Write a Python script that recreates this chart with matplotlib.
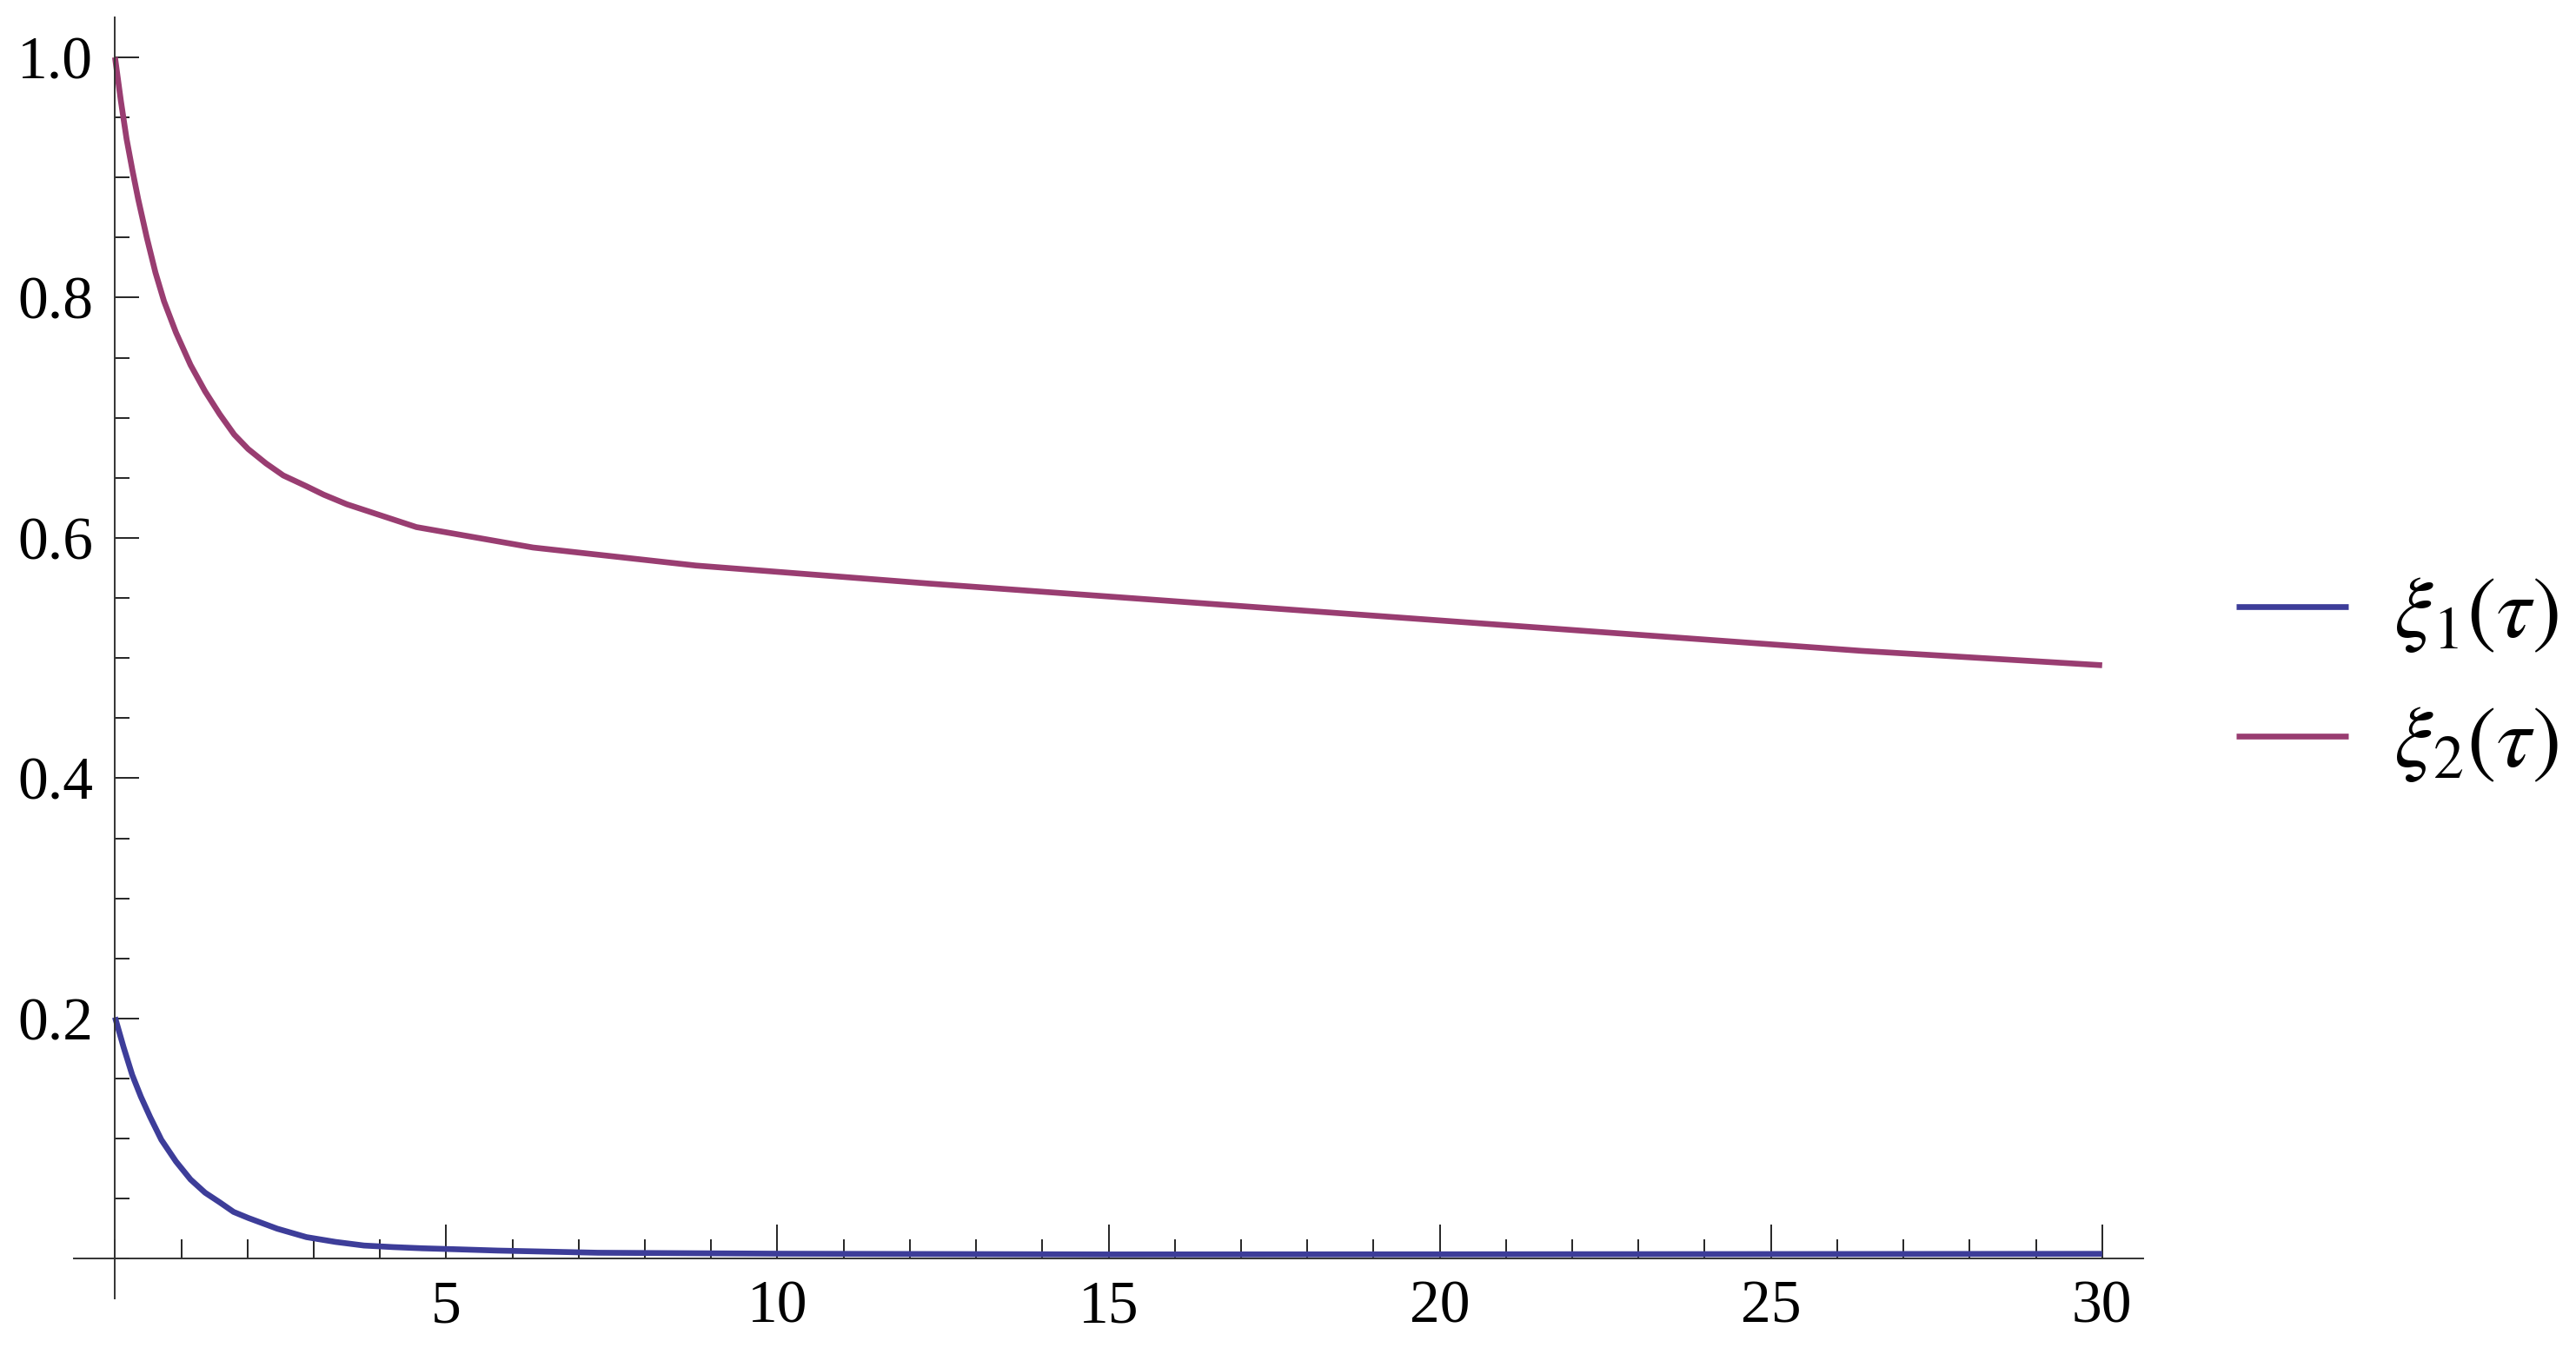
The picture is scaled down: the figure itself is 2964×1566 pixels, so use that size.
import matplotlib
matplotlib.use("Agg")
import matplotlib.pyplot as plt
from matplotlib.ticker import MultipleLocator, FixedLocator

plt.rcParams['font.family'] = ['Liberation Serif', 'DejaVu Serif']
plt.rcParams['mathtext.fontset'] = 'stix'

# values
tau1 = [0, 0.13, 0.26, 0.39, 0.53, 0.70, 0.92, 1.14, 1.36, 1.58, 1.79, 2.01, 2.45,
        2.89, 3.33, 3.76, 4.20, 4.64, 5.08, 5.78, 7.29, 10.06, 15, 20, 25, 30]
xi1 = [0.201, 0.176, 0.153, 0.135, 0.118, 0.099, 0.081, 0.066, 0.055, 0.047, 0.039,
       0.034, 0.025, 0.018, 0.014, 0.011, 0.0097, 0.0087, 0.0080, 0.0068, 0.0050,
       0.0042, 0.0036, 0.0037, 0.0039, 0.0041]

tau2 = [0, 0.088, 0.175, 0.263, 0.35, 0.48, 0.61, 0.74, 0.92, 1.14, 1.36, 1.58,
        1.80, 2.01, 2.28, 2.54, 2.89, 3.15, 3.5, 4.55, 6.31, 8.77, 12.29, 15.81,
        19.32, 22.84, 26.36, 30.0]
xi2 = [1.0, 0.964, 0.932, 0.906, 0.882, 0.850, 0.821, 0.797, 0.771, 0.744, 0.722,
       0.703, 0.686, 0.674, 0.662, 0.652, 0.643, 0.636, 0.628, 0.609, 0.592, 0.577,
       0.562, 0.548, 0.534, 0.520, 0.506, 0.494]

labels = [r'$\xi_1(\tau)$', r'$\xi_2(\tau)$']
colors = ['#3D3D99', '#993D71']

x_major = [5, 10, 15, 20, 25, 30]
y_major = [0.2, 0.4, 0.6, 0.8, 1.0]

fig = plt.figure(figsize=(14.82, 7.83), dpi=200)
ax = fig.add_axes([0.0287, 0.046, 0.8033, 0.941])

ax.plot(tau1, xi1, color=colors[0], lw=2.4, label=labels[0], solid_capstyle='butt')
ax.plot(tau2, xi2, color=colors[1], lw=2.4, label=labels[1], solid_capstyle='butt')

ax.set_xlim(-0.62, 30.62)
ax.set_ylim(-0.033, 1.033)

# axes crossing at the origin, ticks pointing inwards
for s in ['top', 'right']:
    ax.spines[s].set_visible(False)
ax.spines['left'].set_position(('data', 0))
ax.spines['bottom'].set_position(('data', 0))
for s in ['left', 'bottom']:
    ax.spines[s].set_linewidth(0.7)
    ax.spines[s].set_color('#333333')

ax.xaxis.set_major_locator(FixedLocator(x_major))
ax.xaxis.set_minor_locator(MultipleLocator(1))
ax.yaxis.set_major_locator(FixedLocator(y_major))
ax.yaxis.set_minor_locator(MultipleLocator(0.05))
ax.yaxis.set_major_formatter(plt.FuncFormatter(lambda v, p: "%.1f" % v))

ax.tick_params(axis='x', which='major', direction='in', length=14, width=0.6, pad=9, labelsize=25)
ax.tick_params(axis='x', which='minor', direction='in', length=8, width=0.6)
ax.tick_params(axis='y', which='major', direction='in', length=10, width=0.6, pad=9, labelsize=25)
ax.tick_params(axis='y', which='minor', direction='in', length=6, width=0.6)

ax.legend(loc='center left', bbox_to_anchor=(0.8546, 0.5), bbox_transform=fig.transFigure,
          frameon=False, fontsize=36, handlelength=1.29, handletextpad=0.52,
          labelspacing=0.58, borderaxespad=0)

fig.savefig("out.png", dpi=200)
